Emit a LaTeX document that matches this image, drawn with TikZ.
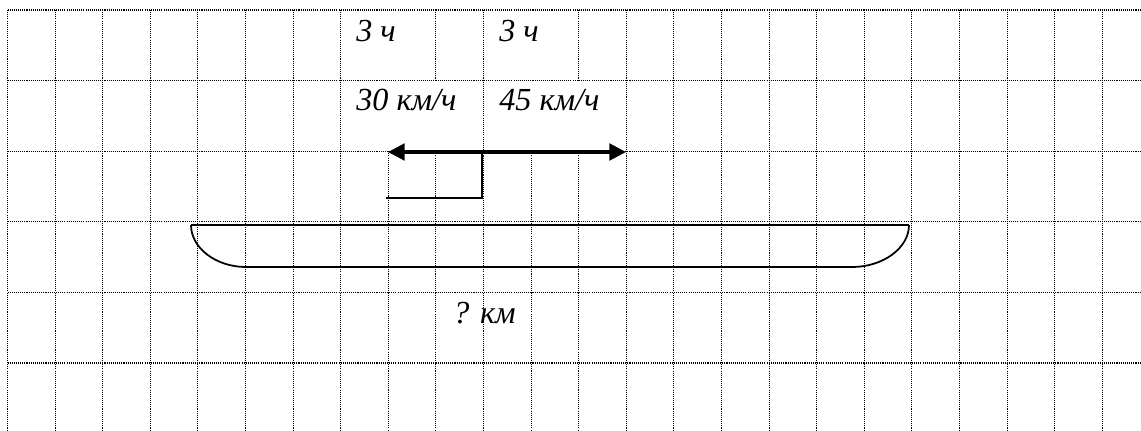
\documentclass[tikz,border=0pt]{standalone}
\usepackage{fontspec}
\setmainfont{Liberation Serif}
\usetikzlibrary{arrows.meta}

\tikzset{
  gridline/.style={line width=0.6pt, dash pattern=on 0.6pt off 0.6pt, black},
  txt/.style={anchor=base west, inner sep=0pt, font=\fontsize{18.3}{20}\selectfont\itshape},
  fleche/.tip={Triangle[length=9.5pt,width=9.5pt]},
}

\begin{document}
\begin{tikzpicture}[x=0.02cm,y=-0.02cm]

\useasboundingbox (0,0) rectangle (1141,430);

% Quadrillage
\foreach \row in {0,...,5}
  \draw[gridline] (7.5,10+70.6*\row) -- (1141,10+70.6*\row);

\foreach \col in {0,1,2,3,4,5,6,7,10,13,14,15,16,17,18,19,20,21,22,23}
  \draw[gridline] (7.5+47.6*\col,10) -- (7.5+47.6*\col,430);

\foreach \col in {8,11}
  \draw[gridline] (7.5+47.6*\col,151.2) -- (7.5+47.6*\col,430);

\foreach \col in {9,12} {
  \draw[gridline] (7.5+47.6*\col,10) -- (7.5+47.6*\col,80.6);
  \draw[gridline] (7.5+47.6*\col,151.2) -- (7.5+47.6*\col,430);
}

% Temps et vitesses
\node[txt] (temps1) at (356,41) {3 ч};
\node[txt] (temps2) at (499,41) {3 ч};
\node[txt] (vit1) at (356,110) {30 км/ч};
\node[txt] (vit2) at (499,110) {45 км/ч};

% Depart
\coordinate (gauche) at (388,152);
\coordinate (droite) at (626,152);
\coordinate (depart) at (482,152);
\coordinate (pied) at (482,198);
\coordinate (base) at (386,198);

\draw[line width=1.8pt, fleche-fleche] (gauche) -- (droite);
\draw[line width=1pt] (depart) -- (pied) -- (base);

% Distance
\draw[line width=1.6pt] (191,225) -- (909,225);
\draw[line width=1pt]
(191,225)
.. controls (191,248) and (216,267) ..
(246,267) --
(852,267)
.. controls (883,267) and (909,248) ..
(909,225);

\node[txt] (dist) at (453,323) {? км};

\end{tikzpicture}
\end{document}
